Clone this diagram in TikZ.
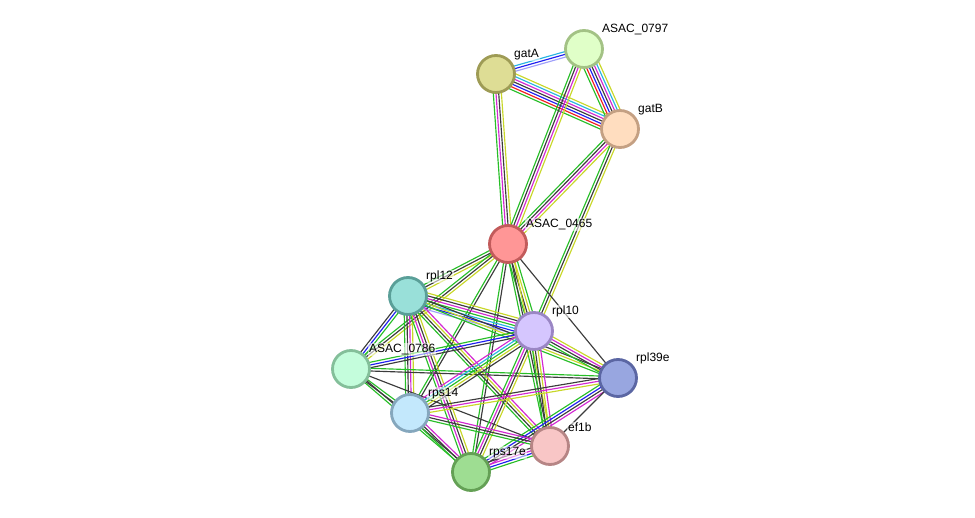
\documentclass[tikz,border=0pt]{standalone}
\usepackage{fontspec}
\setmainfont{Liberation Sans}
\usetikzlibrary{calc,backgrounds}
\definecolor{gn}{RGB}{40,190,40}
\definecolor{yl}{RGB}{200,215,40}
\definecolor{bk}{RGB}{60,60,60}
\definecolor{mg}{RGB}{210,40,210}
\definecolor{cy}{RGB}{40,180,225}
\definecolor{bl}{RGB}{30,30,240}
\definecolor{rd}{RGB}{240,30,30}
\definecolor{hp}{RGB}{160,160,250}
\newcommand\bundle[3]{%
  \xdef\nb{0}%
  \foreach \c in {#3}{\pgfmathtruncatemacro\tmp{\nb+1}\global\let\nb\tmp}%
  \foreach \c [count=\i] in {#3}{%
    \pgfmathsetmacro\off{(\i-(\nb+1)/2)*2.7}%
    \draw[edge,\c] ($(#1.center)!\off pt!90:(#2.center)$) -- ($(#2.center)!\off pt!-90:(#1.center)$);
  }%
}
\tikzset{
  prot/.style={circle,minimum size=37pt,inner sep=0pt,line width=2.8pt},
  lab/.style={anchor=south west,font=\fontsize{12}{14}\selectfont,inner sep=1pt,fill=white,fill opacity=0.55,text opacity=1},
  edge/.style={line width=1.15pt}
}
\begin{document}
\begin{tikzpicture}[x=1pt,y=-1pt]
\useasboundingbox (0,0) rectangle (975,518);
\node[prot,fill={rgb,255:red,222;green,221;blue,149},draw={rgb,255:red,158;green,155;blue,85}] (gatA) at (496,74) {};
\node[prot,fill={rgb,255:red,224;green,255;blue,200},draw={rgb,255:red,163;green,194;blue,133}] (a797) at (584,49) {};
\node[prot,fill={rgb,255:red,255;green,221;blue,191},draw={rgb,255:red,196;green,160;blue,131}] (gatB) at (620,129) {};
\node[prot,fill={rgb,255:red,255;green,150;blue,150},draw={rgb,255:red,194;green,91;blue,91}] (a465) at (508,244) {};
\node[prot,fill={rgb,255:red,153;green,224;blue,217},draw={rgb,255:red,90;green,159;blue,152}] (rpl12) at (408,296) {};
\node[prot,fill={rgb,255:red,213;green,198;blue,254},draw={rgb,255:red,154;green,134;blue,196}] (rpl10) at (534,331) {};
\node[prot,fill={rgb,255:red,196;green,253;blue,220},draw={rgb,255:red,132;green,191;blue,154}] (a786) at (351,369) {};
\node[prot,fill={rgb,255:red,152;green,166;blue,224},draw={rgb,255:red,91;green,102;blue,163}] (rpl39e) at (618,378) {};
\node[prot,fill={rgb,255:red,195;green,232;blue,252},draw={rgb,255:red,133;green,167;blue,189}] (rps14) at (410,413) {};
\node[prot,fill={rgb,255:red,248;green,198;blue,198},draw={rgb,255:red,182;green,133;blue,133}] (ef1b) at (550,446) {};
\node[prot,fill={rgb,255:red,158;green,221;blue,146},draw={rgb,255:red,100;green,160;blue,85}] (rps17e) at (471,472) {};
\begin{scope}[on background layer]
\bundle{gatA}{a797}{hp,bl,cy}
\bundle{gatA}{gatB}{gn,rd,bl,bk,mg,cy,yl}
\bundle{a797}{gatB}{gn,rd,bl,bk,mg,cy,yl}
\bundle{gatA}{a465}{gn,mg,bk,yl}
\bundle{a797}{a465}{gn,bk,mg,yl}
\bundle{gatB}{a465}{gn,bk,mg,yl}
\bundle{gatB}{rpl10}{gn,bk,yl}
\bundle{a465}{rpl39e}{bk}
\bundle{a465}{rpl10}{gn,bk,yl,gn}
\bundle{a465}{rpl12}{gn,bk,yl}
\bundle{a465}{a786}{gn,bk,yl}
\bundle{a465}{rps14}{gn,bk}
\bundle{a465}{rps17e}{gn,bk}
\bundle{a465}{ef1b}{gn,bk,yl}
\bundle{rpl12}{rpl10}{hp,bl,cy,gn,mg,bk,yl}
\bundle{rpl12}{a786}{bk,bl,gn}
\bundle{rpl12}{rps14}{gn,bk,mg,yl}
\bundle{rpl12}{rps17e}{gn,mg,bk,yl}
\bundle{rpl12}{ef1b}{gn,bk,yl,mg}
\bundle{rpl12}{rpl39e}{gn,yl,bk}
\bundle{a786}{rpl10}{bk,bl,gn}
\bundle{a786}{rpl39e}{bk,gn}
\bundle{a786}{rps14}{bk,gn}
\bundle{a786}{rps17e}{gn,bk}
\bundle{a786}{ef1b}{bk}
\bundle{rpl10}{rpl39e}{gn,bk,mg,yl}
\bundle{rpl10}{rps14}{mg,cy,gn,yl,bk}
\bundle{rpl10}{rps17e}{gn,mg,bk,yl}
\bundle{rpl10}{ef1b}{gn,bk,yl,mg}
\bundle{rpl39e}{rps14}{bk,mg,yl}
\bundle{rpl39e}{rps17e}{gn,bl,bk,mg}
\bundle{rpl39e}{ef1b}{bk}
\bundle{rps14}{rps17e}{gn,bk,mg}
\bundle{rps14}{ef1b}{gn,bk,mg}
\bundle{rps17e}{ef1b}{gn,bl,mg,bk}
\end{scope}
\node[lab] (lgatA) at ($(gatA.center)+(17,-13)$) {gatA};
\node[lab] (l797) at ($(a797.center)+(17,-13)$) {ASAC\_0797};
\node[lab] (lgatB) at ($(gatB.center)+(17,-13)$) {gatB};
\node[lab] (l465) at ($(a465.center)+(17,-13)$) {ASAC\_0465};
\node[lab] (l12) at ($(rpl12.center)+(17,-13)$) {rpl12};
\node[lab] (l10) at ($(rpl10.center)+(17,-13)$) {rpl10};
\node[lab] (l786) at ($(a786.center)+(17,-13)$) {ASAC\_0786};
\node[lab] (l39e) at ($(rpl39e.center)+(17,-13)$) {rpl39e};
\node[lab] (l14) at ($(rps14.center)+(17,-13)$) {rps14};
\node[lab] (lef) at ($(ef1b.center)+(17,-13)$) {ef1b};
\node[lab] (l17e) at ($(rps17e.center)+(17,-13)$) {rps17e};
\end{tikzpicture}
\end{document}
